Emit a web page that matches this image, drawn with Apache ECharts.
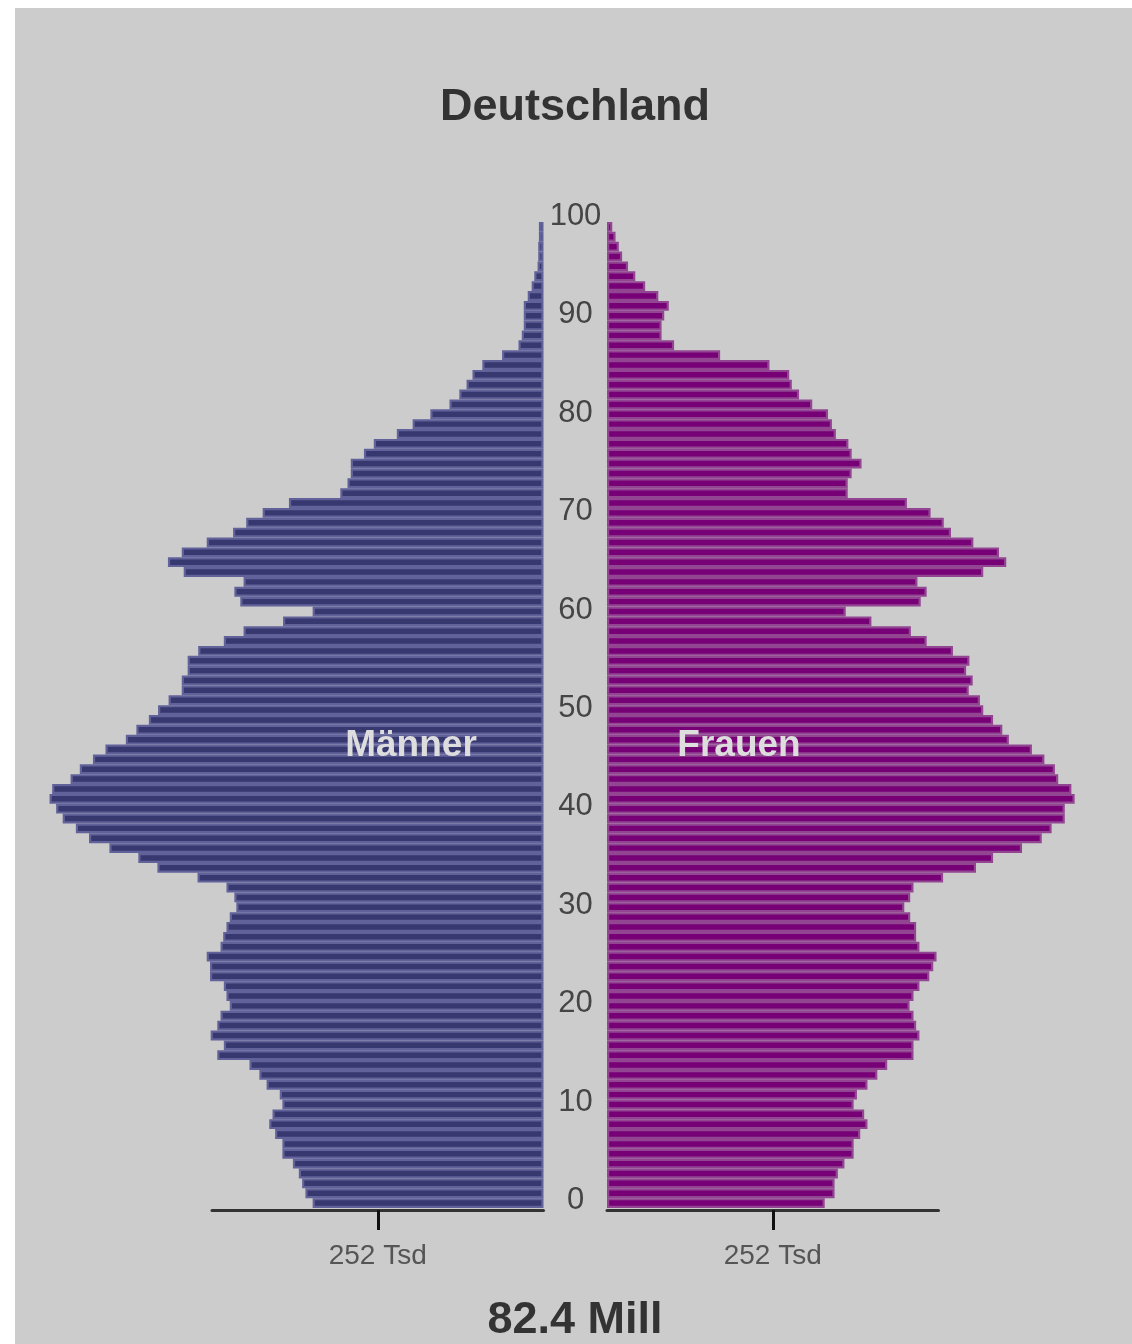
<!DOCTYPE html>
<html>
<head>
<meta charset="utf-8">
<script src="https://cdn.jsdelivr.net/npm/echarts@6/dist/echarts.min.js"></script>
<style>
html,body{margin:0;padding:0;background:#ffffff;}
#c{width:1132px;height:1344px;}
</style>
</head>
<body>
<div id="c"></div>
<script>
// ---------- data ----------
const chartTitle = 'Deutschland';
const totalLabel = '82.4 Mill';
const maleLabel = 'Männer';
const femaleLabel = 'Frauen';

// age categories 0..99 (bottom to top)
const ages = [
  0,1,2,3,4,5,6,7,8,9,10,11,12,13,14,15,16,17,18,19,
  20,21,22,23,24,25,26,27,28,29,30,31,32,33,34,35,36,37,38,39,
  40,41,42,43,44,45,46,47,48,49,50,51,52,53,54,55,56,57,58,59,
  60,61,62,63,64,65,66,67,68,69,70,71,72,73,74,75,76,77,78,79,
  80,81,82,83,84,85,86,87,88,89,90,91,92,93,94,95,96,97,98,99
];

// age axis tick labels
const ageTicks = [0,10,20,30,40,50,60,70,80,90,100];

// men, thousands, ages 0..99
const men = [
  351,362,367,372,381,397,397,408,417,412,
  397,401,421,432,447,496,486,506,496,491,
  477,482,486,507,507,512,491,487,482,477,
  467,470,482,526,587,616,660,691,711,731,
  741,751,747,719,705,685,666,635,619,600,
  586,570,550,550,541,541,525,486,456,396,
  351,461,470,456,547,571,550,512,472,452,
  427,387,309,298,293,293,273,258,223,199,
  172,143,128,117,108,93,63,38,33,30,
  30,30,24,18,14,9,8,8,7,7
];

// women, thousands, ages 0..99
const women = [
  331,346,346,351,361,375,375,385,396,391,
  375,380,396,411,426,466,466,475,470,466,
  460,466,475,490,496,501,475,470,470,461,
  452,461,466,511,561,587,631,661,676,696,
  696,711,706,686,681,665,646,611,601,587,
  572,567,550,556,546,551,526,486,462,402,
  363,477,486,472,572,607,596,557,523,512,
  492,456,366,366,372,387,372,367,348,342,
  336,312,292,281,277,247,172,102,83,83,
  87,94,78,58,43,32,23,18,13,8
];

// population scale
const scaleTicks = [252];
const scaleUnit = 'Tsd';
const scaleMax = 504;

// ---------- layout ----------
const FONT = '"Liberation Sans", Arial, Helvetica, sans-serif';
const axisWidth = 331.5;
const ppu = axisWidth / scaleMax;      // px per thousand
const barMax = 780;
const barWidthPx = barMax * ppu;
const menRight = 543.5;
const womenLeft = 607;
const barTop = 222;
const barHeight = 986;

const chart = echarts.init(document.getElementById('c'), null, {renderer: 'canvas'});

const scaleAxis = (grid, inverse) => ({
  gridIndex: grid, type: 'value', min: 0, max: scaleMax, inverse: inverse,
  position: 'bottom',
  axisLine: {show: true, lineStyle: {color: '#333333', width: 3}},
  axisTick: {show: true, customValues: scaleTicks, length: 20, lineStyle: {color: '#111111', width: 3}},
  axisLabel: {show: true, customValues: scaleTicks, formatter: v => v + ' ' + scaleUnit,
              fontSize: 28, color: '#555555', margin: 32, fontFamily: FONT},
  splitLine: {show: false}
});

const option = {
  backgroundColor: '#ffffff',
  animation: false,
  grid: [
    {left: menRight - barWidthPx, top: barTop, width: barWidthPx, height: barHeight},
    {left: womenLeft, top: barTop, width: barWidthPx, height: barHeight},
    {left: menRight - axisWidth, top: 1209, width: axisWidth, height: 1},
    {left: womenLeft, top: 1209, width: axisWidth, height: 1},
    {left: 575.5, top: 216.5, width: 1, height: 984}
  ],
  xAxis: [
    {gridIndex: 0, type: 'value', min: 0, max: barMax, inverse: true, show: false},
    {gridIndex: 1, type: 'value', min: 0, max: barMax, show: false},
    scaleAxis(2, true),
    scaleAxis(3, false),
    {gridIndex: 4, type: 'value', min: 0, max: 1, show: false}
  ],
  yAxis: [
    {gridIndex: 0, type: 'category', data: ages, show: false},
    {gridIndex: 1, type: 'category', data: ages, show: false},
    {gridIndex: 2, type: 'value', min: 0, max: 1, show: false},
    {gridIndex: 3, type: 'value', min: 0, max: 1, show: false},
    {gridIndex: 4, type: 'value', min: ageTicks[0], max: ageTicks[ageTicks.length - 1],
     interval: ageTicks[1] - ageTicks[0], position: 'left',
     axisLine: {show: false}, axisTick: {show: false}, splitLine: {show: false},
     axisLabel: {show: true, align: 'center', margin: 0, fontSize: 31, color: '#454545', fontFamily: FONT}}
  ],
  series: [
    {type: 'bar', name: maleLabel, xAxisIndex: 0, yAxisIndex: 0, data: men,
     barCategoryGap: '0%', silent: true,
     itemStyle: {color: '#383870', borderColor: '#62629a', borderWidth: 2.2}},
    {type: 'bar', name: femaleLabel, xAxisIndex: 1, yAxisIndex: 1, data: women,
     barCategoryGap: '0%', silent: true,
     itemStyle: {color: '#770077', borderColor: '#924692', borderWidth: 2.2}}
  ],
  graphic: [
    {type: 'rect', z: -10, silent: true, shape: {x: 15, y: 8, width: 1117, height: 1336},
     style: {fill: '#cccccc'}},
    {type: 'text', z: 10, x: 575, y: 108, silent: true,
     style: {text: chartTitle, font: 'bold 45px ' + FONT, fill: '#333333',
             textAlign: 'center', textVerticalAlign: 'middle', align: 'center', verticalAlign: 'middle'}},
    {type: 'text', z: 10, x: 575, y: 1321, silent: true,
     style: {text: totalLabel, font: 'bold 45px ' + FONT, fill: '#333333',
             textAlign: 'center', textVerticalAlign: 'middle', align: 'center', verticalAlign: 'middle'}},
    {type: 'text', z: 10, x: 411, y: 746, silent: true,
     style: {text: maleLabel, font: 'bold 37px ' + FONT, fill: '#dddddd',
             textAlign: 'center', textVerticalAlign: 'middle', align: 'center', verticalAlign: 'middle'}},
    {type: 'text', z: 10, x: 739, y: 746, silent: true,
     style: {text: femaleLabel, font: 'bold 37px ' + FONT, fill: '#dddddd',
             textAlign: 'center', textVerticalAlign: 'middle', align: 'center', verticalAlign: 'middle'}}
  ]
};

chart.setOption(option);
</script>
</body>
</html>
